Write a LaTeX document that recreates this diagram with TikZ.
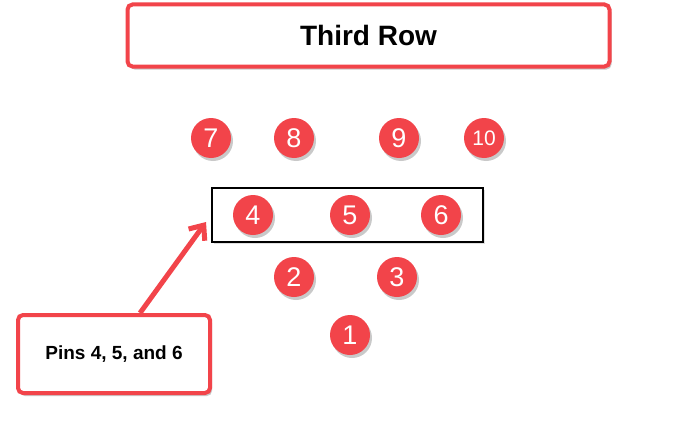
\documentclass[tikz,border=0pt]{standalone}
\usepackage{fontspec}
\setmainfont{Liberation Sans}
\usetikzlibrary{shadows,arrows.meta}
\definecolor{pinred}{HTML}{F2444A}
\tikzset{
  pin/.style={circle, fill=pinred, minimum size=40pt, inner sep=0pt, text=white,
    font=\fontsize{27}{27}\selectfont,
    drop shadow={shadow xshift=2pt, shadow yshift=-3pt, opacity=0.35, fill=black!60}},
  redbox/.style={draw=pinred, line width=4pt, rounded corners=5pt, fill=white,
    drop shadow={shadow xshift=2pt, shadow yshift=-3pt, opacity=0.35, fill=black!60}},
  groupbox/.style={draw=black, line width=2.2pt, fill=white,
    drop shadow={shadow xshift=2pt, shadow yshift=-2pt, opacity=0.25, fill=black!50}},
  callarrow/.style={draw=pinred, line width=5pt, -{Straight Barb[length=12pt,width=20pt]}}
}
\begin{document}
\begin{tikzpicture}[x=1pt,y=-1pt]
\useasboundingbox[fill=white] (0,0) rectangle (700,436);
% title
\node[redbox, minimum width=482pt, minimum height=62pt, inner sep=0pt,
  font=\fontsize{28}{28}\selectfont\bfseries] (title) at (368.5,35.5) {Third Row};
% group box
\node[groupbox, minimum width=271pt, minimum height=54pt, inner sep=0pt] (grp) at (347.5,215) {};
% pins
\node[pin] (p7) at (211,138) {7};
\node[pin] (p8) at (294,138) {8};
\node[pin] (p9) at (399,138) {9};
\node[pin, font=\fontsize{21}{21}\selectfont] (p10) at (484,138) {10};
\node[pin] (p4) at (253,215) {4};
\node[pin] (p5) at (350,215) {5};
\node[pin] (p6) at (441,215) {6};
\node[pin] (p2) at (294,277) {2};
\node[pin] (p3) at (397,277) {3};
\node[pin] (p1) at (350,335) {1};
% callout
\node[redbox, minimum width=192pt, minimum height=78pt, inner sep=0pt,
  font=\fontsize{19}{19}\selectfont\bfseries] (call) at (114,354) {Pins 4, 5, and 6};
\coordinate (tip) at (206,222);
\draw[callarrow] ([xshift=26pt]call.north) -- (tip);
\end{tikzpicture}
\end{document}
